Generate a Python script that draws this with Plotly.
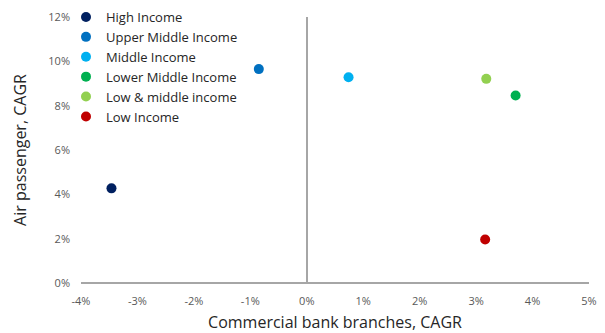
import plotly.graph_objects as go

categories = ["High Income", "Upper Middle Income", "Middle Income",
              "Lower Middle Income", "Low & middle income", "Low Income"]
bank_branches_cagr = [-3.46, -0.85, 0.74, 3.70, 3.18, 3.16]
air_passenger_cagr = [4.27, 9.65, 9.28, 8.46, 9.21, 1.96]
colors = ["#002060", "#0070C0", "#00B0F0", "#00B050", "#92D050", "#C00000"]

x_ticks = list(range(-4, 6))
x_tick_labels = [f"{v}%" for v in x_ticks]
y_ticks = list(range(0, 13, 2))
y_tick_labels = [f"{v}%" for v in y_ticks]

fig = go.Figure()
for name, x, y, c in zip(categories, bank_branches_cagr, air_passenger_cagr, colors):
    fig.add_trace(go.Scatter(x=[x], y=[y], mode="markers", name=name,
                             marker=dict(color=c, size=10)))

font_family = "Open Sans, Noto Sans, sans-serif"
W, H = 605, 333
L, R = 73, 24
top_m, bot_m = 0, 58
plot_h = H - top_m - bot_m
plot_w = W - L - R
plot_top_px = 9
y_dom_top = (plot_h - plot_top_px) / plot_h

fig.update_layout(
    width=W, height=H,
    margin=dict(l=L, r=R, t=top_m, b=bot_m, autoexpand=False),
    paper_bgcolor="white", plot_bgcolor="white",
    font=dict(family=font_family, color="#404040"),
    showlegend=True,
    legend=dict(x=-15 / plot_w, y=1 + 6 / plot_h, xanchor="left", yanchor="top",
                font=dict(size=13, color="#262626"),
                bgcolor="rgba(0,0,0,0)", itemwidth=30,
                tracegroupgap=0),
    xaxis=dict(range=[-4, 5], tickmode="array", tickvals=x_ticks, ticktext=x_tick_labels,
               showgrid=False, zeroline=True, zerolinecolor="#A6A6A6",
               zerolinewidth=2, showline=False, ticks="", ticklabelstandoff=10,
               ticklabeloverflow="allow",
               tickfont=dict(size=11, color="#595959"),
               title=dict(text="Commercial bank branches, CAGR",
                          font=dict(size=16, color="#262626"), standoff=9)),
    yaxis=dict(range=[0, 12], tickmode="array", tickvals=y_ticks, ticktext=y_tick_labels,
               domain=[0, y_dom_top],
               showgrid=False, zeroline=True, zerolinecolor="#A6A6A6",
               zerolinewidth=2, showline=False, ticks="", ticklabelstandoff=10,
               ticklabeloverflow="allow",
               tickfont=dict(size=11, color="#595959"),
               title=dict(text="Air passenger, CAGR",
                          font=dict(size=16, color="#262626"), standoff=17)),
)
fig.write_html("out.html")
